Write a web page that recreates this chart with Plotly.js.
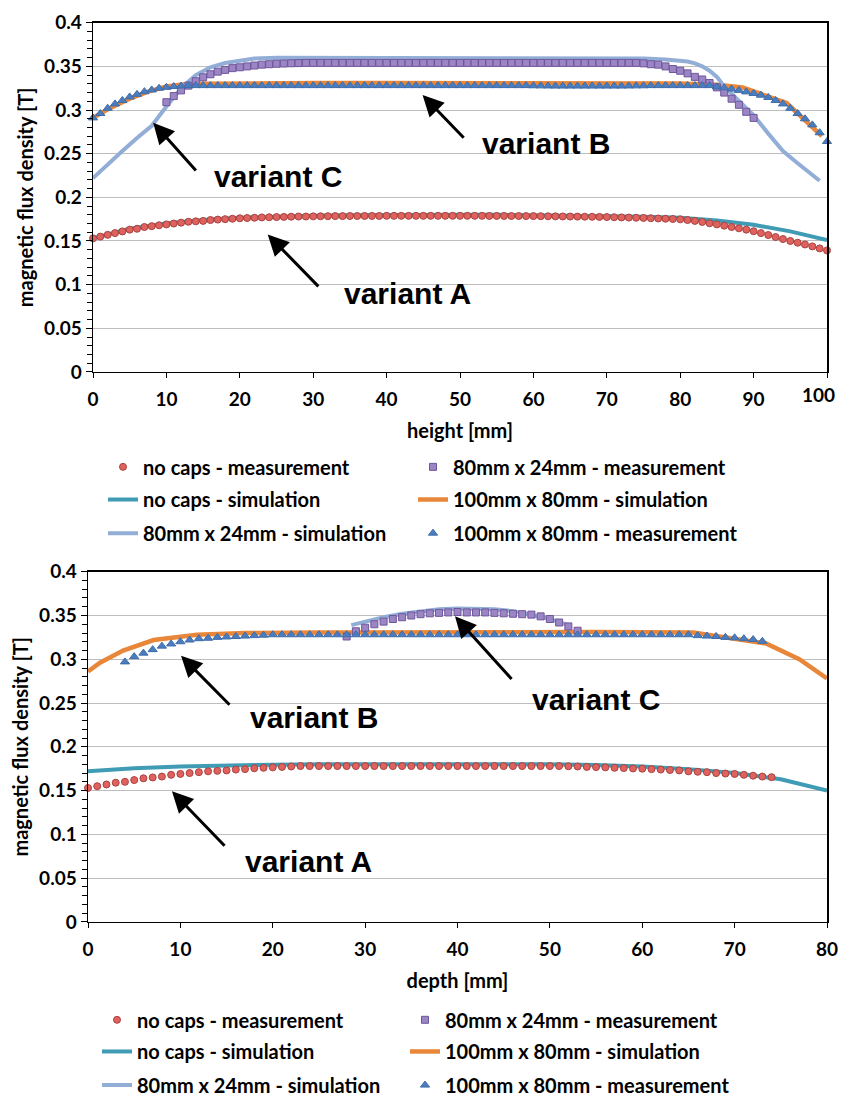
<!DOCTYPE html>
<html>
<head>
<meta charset="utf-8">
<script src="https://cdn.plot.ly/plotly-3.0.1.min.js"></script>
<style>html,body{margin:0;padding:0;background:#fff}#chart{width:841px;height:1105px}</style>
</head>
<body>
<div id="chart"></div>
<script>
// ---------------- DATA: top chart (height) ----------------
const heightMeasX = [0,1,2,3,4,5,6,7,8,9,10,11,12,13,14,15,16,17,18,19,20,21,22,23,24,25,26,27,28,29,30,31,32,33,34,35,36,37,38,39,40,41,42,43,44,45,46,47,48,49,50,51,52,53,54,55,56,57,58,59,60,61,62,63,64,65,66,67,68,69,70,71,72,73,74,75,76,77,78,79,80,81,82,83,84,85,86,87,88,89,90,91,92,93,94,95,96,97,98,99,100];
const noCapsMeasH = [0.153,0.155,0.157,0.159,0.161,0.163,0.164,0.166,0.167,0.168,0.169,
  0.170,0.171,0.172,0.1725,0.173,0.174,0.1745,0.175,0.1755,0.176,
  0.1763,0.1766,0.177,0.1772,0.1774,0.1776,0.1778,0.178,0.178,0.1782,
  0.1783,0.1784,0.1785,0.1785,0.1786,0.1786,0.1787,0.1787,0.1787,0.1788,
  0.1788,0.1788,0.1788,0.1788,0.1788,0.1788,0.1788,0.1788,0.1788,0.1788,
  0.1788,0.1788,0.1788,0.1787,0.1787,0.1787,0.1786,0.1786,0.1785,0.1785,
  0.1784,0.1783,0.1782,0.1781,0.178,0.1779,0.1778,0.1777,0.1776,0.1774,
  0.1772,0.177,0.1768,0.1766,0.1764,0.1761,0.1758,0.1755,0.1752,0.1748,
  0.174,0.173,0.1718,0.1703,0.169,0.1675,0.166,0.1645,0.163,0.1612,
  0.159,0.1568,0.1545,0.1522,0.150,0.148,0.146,0.1438,0.1415,0.1392];
const cap100MeasH = [0.291,0.296,0.302,0.307,0.311,0.315,0.318,0.321,0.323,0.325,0.326,
  0.327,0.3275,0.328,0.328,0.328,0.328,0.328,0.328,0.328,0.328,
  0.328,0.328,0.328,0.328,0.328,0.328,0.328,0.328,0.328,0.328,
  0.328,0.328,0.328,0.328,0.328,0.328,0.328,0.328,0.328,0.328,
  0.328,0.328,0.328,0.328,0.328,0.328,0.328,0.328,0.328,0.328,
  0.328,0.328,0.328,0.328,0.328,0.328,0.328,0.328,0.328,0.3278,
  0.3277,0.3276,0.3275,0.3275,0.3275,0.3275,0.3275,0.3275,0.3275,0.3275,
  0.3275,0.3275,0.3276,0.3277,0.3278,0.328,0.328,0.328,0.328,0.328,
  0.328,0.328,0.328,0.328,0.3265,0.3255,0.324,0.3225,0.3208,0.319,
  0.317,0.3145,0.311,0.307,0.302,0.296,0.290,0.283,0.274,0.264];
const cap80MeasHX = [10,11,12,13,14,15,16,17,18,19,20,21,22,23,24,25,26,27,28,29,30,31,32,33,34,35,36,37,38,39,40,41,42,43,44,45,46,47,48,49,50,51,52,53,54,55,56,57,58,59,60,61,62,63,64,65,66,67,68,69,70,71,72,73,74,75,76,77,78,79,80,81,82,83,84,85,86,87,88,89,90];
const cap80MeasH = [0.309,0.316,0.3225,0.328,0.333,0.3375,0.341,0.344,0.346,0.348,
  0.349,0.350,0.351,0.352,0.3525,0.353,0.3533,0.3536,0.3538,0.354,
  0.354,0.354,0.354,0.354,0.354,0.354,0.354,0.354,0.354,0.354,
  0.354,0.354,0.354,0.354,0.354,0.354,0.354,0.354,0.354,0.354,
  0.354,0.354,0.354,0.354,0.354,0.354,0.354,0.354,0.354,0.354,
  0.354,0.354,0.354,0.354,0.354,0.354,0.354,0.354,0.354,0.354,
  0.354,0.354,0.354,0.354,0.354,0.3535,0.3525,0.352,0.350,0.347,
  0.345,0.342,0.338,0.335,0.331,0.326,0.320,0.313,0.306,0.298,0.291];
const noCapsSimHX = [0,5,10,15,20,25,30,35,40,45,50,55,60,65,70,75,80,85,90,95,100];
const noCapsSimH  = [0.153,0.164,0.170,0.174,0.1765,0.178,0.179,0.1795,0.180,0.180,0.180,0.180,0.1797,0.1793,0.1787,0.1778,0.1765,0.1735,0.1685,0.161,0.151];
const cap100SimHX = [0,2.5,5,7.5,10,12.5,15,20,30,40,50,60,70,80,85,88.5,94.5,99.3];
const cap100SimH  = [0.291,0.303,0.313,0.321,0.327,0.3295,0.330,0.3305,0.331,0.331,0.331,0.331,0.331,0.3305,0.329,0.326,0.308,0.270];
const cap80SimHX = [0,2,4,6,8,10,12,14,16,18,20,22,25,30,40,50,60,70,75,78,80,81,82,83,84,85,86,88,90,92,94,96,99];
const cap80SimH  = [0.222,0.238,0.253,0.268,0.282,0.304,0.325,0.340,0.349,0.354,0.357,0.359,0.360,0.360,0.360,0.360,0.360,0.3598,0.359,0.358,0.357,0.3555,0.3535,0.350,0.345,0.338,0.327,0.310,0.294,0.273,0.253,0.239,0.219];

// ---------------- DATA: bottom chart (depth) ----------------
const noCapsMeasDX = [0,1,2,3,4,5,6,7,8,9,10,11,12,13,14,15,16,17,18,19,20,21,22,23,24,25,26,27,28,29,30,31,32,33,34,35,36,37,38,39,40,41,42,43,44,45,46,47,48,49,50,51,52,53,54,55,56,57,58,59,60,61,62,63,64,65,66,67,68,69,70,71,72,73,74];
const noCapsMeasD = [0.153,0.155,0.157,0.159,0.160,0.162,0.164,0.165,0.166,0.168,
  0.169,0.170,0.171,0.172,0.1725,0.173,0.174,0.1745,0.1755,0.176,
  0.1765,0.177,0.1775,0.178,0.178,0.178,0.178,0.178,0.178,0.178,
  0.178,0.178,0.178,0.178,0.178,0.178,0.178,0.178,0.178,0.178,
  0.178,0.178,0.178,0.178,0.178,0.178,0.178,0.178,0.178,0.178,
  0.178,0.178,0.1778,0.1775,0.177,0.1768,0.1765,0.176,0.1757,0.1753,
  0.175,0.1745,0.174,0.1735,0.173,0.172,0.1715,0.171,0.170,0.1695,
  0.169,0.168,0.167,0.166,0.1653];
const cap100MeasDX = [4,5,6,7,8,9,10,11,12,13,14,15,16,17,18,19,20,21,22,23,24,25,26,27,28,29,30,31,32,33,34,35,36,37,38,39,40,41,42,43,44,45,46,47,48,49,50,51,52,53,54,55,56,57,58,59,60,61,62,63,64,65,66,67,68,69,70,71,72,73];
const cap100MeasD = [0.297,0.303,0.307,0.311,0.315,0.3175,0.320,0.322,0.3235,0.324,
  0.325,0.3255,0.326,0.3265,0.327,0.3275,0.328,0.328,0.328,0.328,
  0.328,0.328,0.328,0.328,0.328,0.328,0.328,0.328,0.328,0.328,
  0.328,0.328,0.328,0.328,0.328,0.328,0.328,0.328,0.328,0.328,
  0.328,0.328,0.328,0.328,0.328,0.328,0.328,0.328,0.328,0.328,
  0.328,0.328,0.328,0.328,0.328,0.328,0.328,0.328,0.328,0.328,
  0.328,0.328,0.327,0.3265,0.326,0.325,0.3245,0.3235,0.3225,0.3205];
const cap80MeasDX = [28,29,30,31,32,33,34,35,36,37,38,39,40,41,42,43,44,45,46,47,48,49,50,51,52,53];
const cap80MeasD = [0.326,0.332,0.336,0.340,0.343,0.346,0.348,0.350,0.3515,0.3525,0.353,0.3535,0.354,0.3535,0.3535,0.3535,0.353,0.3525,0.352,0.3515,0.351,0.349,0.346,0.342,0.3375,0.3326];
const noCapsSimDX = [0,5,10,15,20,25,30,35,40,45,50,55,60,65,70,75,80];
const noCapsSimD  = [0.172,0.1755,0.1775,0.1788,0.1795,0.180,0.1802,0.1803,0.1803,0.1802,0.180,0.1793,0.1775,0.1745,0.170,0.163,0.150];
const cap100SimDX = [0,1.3,3.8,7.1,11.8,17,25,35,45,55,65.5,73.4,77,80];
const cap100SimD  = [0.286,0.296,0.310,0.322,0.328,0.330,0.3305,0.331,0.331,0.331,0.3305,0.318,0.300,0.278];
const cap80SimDX = [28.5,30,32,34,36,38,40,42,44,46,48,50,52];
const cap80SimD  = [0.339,0.343,0.348,0.352,0.355,0.357,0.358,0.358,0.357,0.355,0.351,0.346,0.339];

// ---------------- labels ----------------
const seriesNames = ['no caps - measurement','80mm x 24mm - measurement','no caps - simulation','100mm x 80mm - simulation','80mm x 24mm - simulation','100mm x 80mm - measurement'];
const yTickVals = [0,0.05,0.1,0.15,0.2,0.25,0.3,0.35,0.4];
const yTickText = ['0','0.05','0.1','0.15','0.2','0.25','0.3','0.35','0.4'];
const xTickValsH = [0,10,20,30,40,50,60,70,80,90,100];
const xTickTextH = ['0','10','20','30','40','50','60','70','80','90',''];
const xLastTickH = '100';   // drawn inset so it is not cut at the page edge
const xTickValsD = [0,10,20,30,40,50,60,70,80];
const xTickTextD = ['0','10','20','30','40','50','60','70','80'];
const yTitle = 'magnetic flux density [T]';
const xTitleH = 'height [mm]';
const xTitleD = 'depth [mm]';

// ---------------- styles ----------------
const C = {teal:'#3F9CB4', orange:'#E8873A', lblue:'#93AED6',
  red:'#DF625E', redL:'#A9423F', purp:'#9C85C5', purpL:'#6E569B', blue:'#4A7DC0', blueL:'#3F6CA8'};
const W = 841, H = 1105;
const TF = 'Lato, "Open Sans", sans-serif';
const RIGHT_W = 340;

function lineTrace(x, y, name, color, width, xa, ya, leg, lw) {
  return {x:x, y:y, name:name, type:'scatter', mode:'lines', line:{color:color, width:width},
    xaxis:xa, yaxis:ya, legend:leg, legendwidth:lw, cliponaxis:false, hoverinfo:'skip'};
}
function markTrace(x, y, name, sym, size, color, lcolor, xa, ya, leg, lw) {
  return {x:x, y:y, name:name, type:'scatter', mode:'markers',
    marker:{symbol:sym, size:size, color:color, line:{color:lcolor, width:1}},
    xaxis:xa, yaxis:ya, legend:leg, legendwidth:lw, cliponaxis:false, hoverinfo:'skip'};
}

function chartTraces(d, xa, ya, L, leftW) {
  return [
    lineTrace(d.tsX, d.tsY, seriesNames[2], C.teal, 4, xa, ya, L[1], leftW),
    lineTrace(d.osX, d.osY, seriesNames[3], C.orange, 4.5, xa, ya, L[1], RIGHT_W),
    lineTrace(d.bsX, d.bsY, seriesNames[4], C.lblue, 4, xa, ya, L[2], leftW),
    markTrace(d.rmX, d.rmY, seriesNames[0], 'circle', 7, C.red, C.redL, xa, ya, L[0], leftW),
    markTrace(d.pmX, d.pmY, seriesNames[1], 'square', 7, C.purp, C.purpL, xa, ya, L[0], RIGHT_W),
    markTrace(d.bmX, d.bmY, seriesNames[5], 'triangle-up', 8, C.blue, C.blueL, xa, ya, L[2], RIGHT_W)
  ];
}

const traces = [].concat(
  chartTraces({tsX:noCapsSimHX, tsY:noCapsSimH, osX:cap100SimHX, osY:cap100SimH, bsX:cap80SimHX, bsY:cap80SimH,
    rmX:heightMeasX, rmY:noCapsMeasH, pmX:cap80MeasHX, pmY:cap80MeasH, bmX:heightMeasX, bmY:cap100MeasH},
    'x','y',['legend','legend2','legend3'], 265),
  chartTraces({tsX:noCapsSimDX, tsY:noCapsSimD, osX:cap100SimDX, osY:cap100SimD, bsX:cap80SimDX, bsY:cap80SimD,
    rmX:noCapsMeasDX, rmY:noCapsMeasD, pmX:cap80MeasDX, pmY:cap80MeasD, bmX:cap100MeasDX, bmY:cap100MeasD},
    'x2','y2',['legend4','legend5','legend6'], 263)
);

const tickFont = {family:TF, size:19, color:'#000', weight:'bold'};
const titleFont = {family:TF, size:20, color:'#000', weight:'bold'};

function xAxis(left, right, range, tv, tt, title, anchor) {
  return {domain:[left/W, right/W], range:range, tickmode:'array', tickvals:tv, ticktext:tt, anchor:anchor,
    showline:true, linecolor:'#000', linewidth:1.5, mirror:true, ticks:'outside', ticklen:5, tickcolor:'#000',
    ticklabelstandoff:5,
    showgrid:false, zeroline:false, tickfont:tickFont, title:{text:title, font:titleFont, standoff:15}, fixedrange:true};
}
function yAxis(top, bottom, title, anchor) {
  return {domain:[1-bottom/H, 1-top/H], range:[0,0.4], tickmode:'array', tickvals:yTickVals, ticktext:yTickText, anchor:anchor,
    showline:true, linecolor:'#000', linewidth:1.5, mirror:true, ticks:'outside', ticklen:6, tickcolor:'#000',
    minor:{dtick:0.01, ticks:'outside', ticklen:5, tickcolor:'#000', showgrid:false},
    showgrid:true, gridcolor:'#BDBDBD', gridwidth:1, zeroline:false, tickfont:tickFont,
    title:{text:title, font:titleFont, standoff:5}, fixedrange:true};
}

function legendAt(textLeftPx, yPx) {
  return {orientation:'h', x:(textLeftPx-40)/W, y:1-yPx/H, xanchor:'left', yanchor:'middle',
    bgcolor:'rgba(0,0,0,0)', borderwidth:0,
    font:{family:TF, size:20, color:'#000', weight:'bold'}, traceorder:'normal'};
}

const AF = {family:'"Liberation Sans", Arial, sans-serif', size:30, color:'#000'};
function arrow(xa, ya, hx, hy, tx, ty) {
  return {xref:xa, yref:ya, axref:xa, ayref:ya, x:hx, y:hy, ax:tx, ay:ty, text:'', showarrow:true,
    arrowhead:2, arrowsize:1.4, arrowwidth:3, arrowcolor:'#000', standoff:0, startstandoff:0};
}
function label(xa, ya, x, y, t) {
  return {xref:xa, yref:ya, x:x, y:y, text:'<b>'+t+'</b>', showarrow:false, font:AF, xanchor:'center', yanchor:'middle'};
}

const layout = {
  width:W, height:H, margin:{l:0, r:0, t:0, b:0}, paper_bgcolor:'#fff', plot_bgcolor:'#fff',
  xaxis: xAxis(93, 827, [0,100], xTickValsH, xTickTextH, xTitleH, 'y'),
  yaxis: yAxis(23, 376, yTitle, 'x'),
  xaxis2: xAxis(88, 827, [0,80], xTickValsD, xTickTextD, xTitleD, 'y2'),
  yaxis2: yAxis(578, 932, yTitle, 'x2'),
  legend: legendAt(143, 472),
  legend2: legendAt(143, 505),
  legend3: legendAt(143, 539),
  legend4: legendAt(137, 1031),
  legend5: legendAt(137, 1063),
  legend6: legendAt(137, 1097),
  annotations: [
    {xref:'x', yref:'paper', x:xTickValsH[xTickValsH.length-1], y:1-399/H, text:xLastTickH, showarrow:false,
      xanchor:'center', yanchor:'middle', xshift:-9, font:tickFont},
    arrow('x','y', 8.2, 0.2855, 14.2, 0.229),
    label('x','y', 25.2, 0.2243, 'variant C'),
    arrow('x','y', 44.9, 0.3172, 50.7, 0.2666),
    label('x','y', 61.7, 0.2617, 'variant B'),
    arrow('x','y', 23.8, 0.1575, 30.9, 0.0963),
    label('x','y', 42.8, 0.0895, 'variant A'),
    arrow('x2','y2', 10.07, 0.304, 15.48, 0.2463),
    label('x2','y2', 24.47, 0.234, 'variant B'),
    arrow('x2','y2', 39.73, 0.349, 46.0, 0.2757),
    label('x2','y2', 55.0, 0.2535, 'variant C'),
    arrow('x2','y2', 9.09, 0.1492, 14.94, 0.0852),
    label('x2','y2', 23.92, 0.0685, 'variant A')
  ],
  showlegend:true
};

Plotly.newPlot('chart', traces, layout, {staticPlot:true, displayModeBar:false});
</script>
</body>
</html>
